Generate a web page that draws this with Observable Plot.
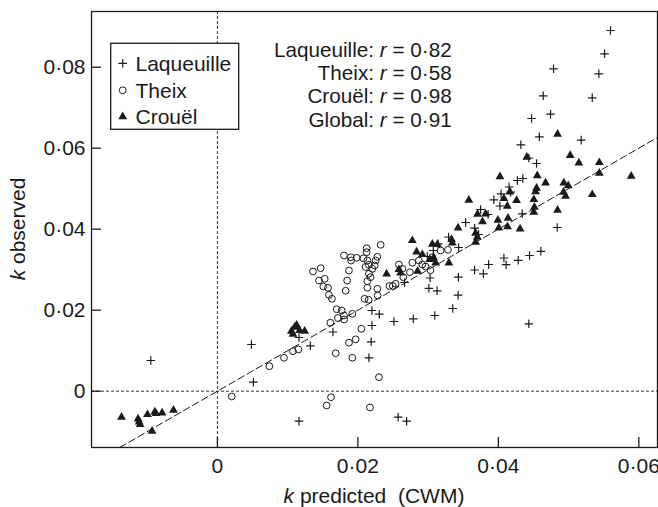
<!DOCTYPE html>
<html><head><meta charset="utf-8">
<script src="https://cdn.jsdelivr.net/npm/d3@7"></script>
<script src="https://cdn.jsdelivr.net/npm/@observablehq/plot@0.6"></script>
<style>body{margin:0;background:#fff} svg{font-family:"Liberation Sans",Arial,Helvetica,sans-serif}</style>
</head><body><div id="chart"></div>
<script>
// k predicted (CWM), k observed
const laqueuille = [[-0.00949,0.00758],[0.00484,0.01153],[0.00512,0.00222],[0.01161,-0.00741],[0.01323,0.01121],[0.01161,0.01326],[0.01645,0.01462],
[0.022,0.01993],[0.02305,0.01901],[0.022,0.01622],[0.02513,0.01721],[0.02789,0.01788],[0.03095,0.01869],[0.03351,0.02042],[0.02189,0.0122],[0.02157,0.00825],[0.02573,-0.00642],[0.02694,-0.00741],[0.04434,0.01664],
[0.02665,0.02684],[0.03028,0.02795],[0.03011,0.02541],[0.03128,0.02479],[0.03431,0.02815],[0.03427,0.0237],
[0.03662,0.02993],[0.03787,0.02899],[0.03861,0.03128],[0.04079,0.03289],[0.0411,0.03123],[0.04283,0.03232],[0.04444,0.03351],[0.04605,0.03454],
[0.02988,0.03326],[0.03074,0.03474],[0.03142,0.0364],[0.03292,0.03807],[0.03434,0.03548],[0.03534,0.04165],[0.03662,0.04025],[0.03719,0.03869],[0.03747,0.04486],[0.03854,0.04363],
[0.03936,0.04726],[0.04022,0.04573],[0.04039,0.04874],[0.04153,0.05042],[0.04174,0.04914],[0.04271,0.05202],[0.04348,0.05252],[0.0434,0.0438],[0.04838,0.04042],
[0.04434,0.05758],[0.04544,0.05622],[0.0432,0.06084],[0.04584,0.06281],[0.04473,0.06733],[0.04743,0.0684],[0.0518,0.06198],[0.04639,0.07294],[0.05337,0.07244],[0.04786,0.0796],[0.05431,0.07837],[0.05512,0.08331],[0.05597,0.08906]];

const theix = [[0.00204,-0.00131],[0.0074,0.00617],[0.00948,0.00825],[0.01076,0.00988],[0.01153,0.0103],[0.01555,-0.00353],[0.01617,-0.00148],[0.02172,-0.00402],[0.023,0.00346],
[0.01684,0.00938],[0.01921,0.00825],[0.01873,0.01198],[0.01968,0.01281],[0.02049,0.01541],[0.01608,0.01691],[0.01698,0.02025],[0.01769,0.01993],[0.01802,0.01869],[0.01716,0.01807],[0.01804,0.0177],[0.01921,0.01911],
[0.0163,0.02281],[0.01588,0.0238],[0.01574,0.02553],[0.01508,0.02585],[0.01527,0.02775],[0.01446,0.02733],[0.0136,0.02956],[0.0147,0.03037],[0.01826,0.02479],[0.01847,0.02733],[0.01873,0.0298],
[0.01802,0.03351],[0.01897,0.03309],[0.01982,0.03294],[0.02079,0.03281],[0.01904,0.03227],[0.02125,0.03531],[0.02125,0.03432],[0.02324,0.03615],[0.02277,0.03319],[0.02135,0.03227],[0.02253,0.03227],[0.02157,0.03121],[0.02239,0.03104],[0.02206,0.03022],[0.0211,0.03067],[0.02157,0.02899],[0.02179,0.02815],[0.02135,0.02716],
[0.02135,0.02553],[0.02277,0.02528],[0.02096,0.02281],[0.02153,0.02257],[0.02281,0.02363],[0.02449,0.02598],[0.02497,0.02598],[0.02584,0.03128],
[0.02633,0.03022],[0.02741,0.02938],[0.02647,0.02815],[0.02775,0.03173],[0.02917,0.03128],[0.02964,0.03079],[0.03033,0.02988],[0.02869,0.03227],[0.02537,0.02652],
[0.0306,0.03309],[0.03178,0.03474],[0.03282,0.03491]];

const crouel = [[-0.01366,-0.00625],[-0.0113,-0.00667],[-0.01116,-0.00741],[-0.01101,-0.00805],[-0.00996,-0.00558],[-0.00892,-0.00494],[-0.00874,-0.00533],[-0.00788,-0.00519],[-0.00626,-0.00452],[-0.00931,-0.0097],
[0.01053,0.01499],[0.011,0.01598],[0.01128,0.01647],[0.01076,0.01425],[0.01171,0.01516],[0.01242,0.01499],
[0.02409,0.02914],[0.02584,0.03022],[0.02608,0.02938],[0.02775,0.03738],[0.02836,0.03457],[0.02917,0.03393],[0.0306,0.03647],[0.03131,0.0364],[0.03078,0.03314],[0.03025,0.03269],[0.03107,0.03185],[0.0285,0.0298],[0.03296,0.03185],[0.03334,0.03763],[0.03344,0.03679],[0.03427,0.04049],[0.0358,0.04733],[0.03676,0.03919],[0.037,0.0382],[0.03676,0.03696],[0.03704,0.04388],[0.03818,0.04395],[0.03775,0.04202],[0.03993,0.0424],[0.04007,0.04049],[0.04131,0.04079],[0.04138,0.04289],[0.04127,0.04585],[0.04079,0.04775],[0.04164,0.04938],[0.04259,0.04728],[0.04022,0.05314],[0.04309,0.04025],[0.04406,0.05795],[0.04505,0.04751],[0.04513,0.0456],[0.04505,0.04437],[0.0453,0.04943],[0.04544,0.0503],[0.04554,0.05338],[0.04672,0.0516],[0.04843,0.06363],[0.04843,0.04486],[0.05023,0.0584],[0.05146,0.05654],[0.05438,0.05664],[0.05438,0.054],[0.05892,0.05326],[0.05337,0.04874],[0.04932,0.0516],[0.04995,0.05091],[0.04928,0.04931],[0.04957,0.04832]];

const seriesNames = ["Laqueuille", "Theix", "Crouël"];
const rLabels = ["Laqueuille", "Theix", "Crouël", "Global"];
const rValues = ["0·82", "0·58", "0·98", "0·91"];
const xTicks = [0, 0.02, 0.04, 0.06];
const xTickLabels = ["0", "0·02", "0·04", "0·06"];
const yTicks = [0, 0.02, 0.04, 0.06, 0.08];
const yTickLabels = ["0", "0·02", "0·04", "0·06", "0·08"];
const xDomain = [-0.01793, 0.06266];
const yDomain = [-0.0139, 0.09375];

const plusSym = {draw(ctx, size) {const r = Math.sqrt(size / Math.PI); ctx.moveTo(-r, 0); ctx.lineTo(r, 0); ctx.moveTo(0, -r); ctx.lineTo(0, r);}};
const triSym = {draw(ctx, size) {const r = Math.sqrt(size / Math.PI); ctx.moveTo(0, -r); ctx.lineTo(r, 0.75 * r); ctx.lineTo(-r, 0.75 * r); ctx.closePath();}};

const ink = "#1a1a1a";
const W = 658, H = 507, mL = 91, mT = 11, mR = 1, mB = 60;

const plot = Plot.plot({
  width: W, height: H,
  marginLeft: mL, marginTop: mT, marginRight: mR, marginBottom: mB,
  style: {fontFamily: '"Liberation Sans", Arial, sans-serif', fontSize: "21px", background: "#fff", color: ink},
  x: {domain: xDomain},
  y: {domain: yDomain},
  marks: [
    Plot.ruleX([0], {stroke: "#333", strokeWidth: 1, strokeDasharray: "3,2"}),
    Plot.ruleY([0], {stroke: "#333", strokeWidth: 1, strokeDasharray: "3,2"}),
    Plot.line([yDomain[0], xDomain[1]], {x: d => d, y: d => d, stroke: ink, strokeWidth: 1, strokeDasharray: "7,3.5", clip: true}),
    Plot.dot(laqueuille, {x: d => d[0], y: d => d[1], symbol: plusSym, r: 4.3, stroke: ink, strokeWidth: 1.2, fill: "none"}),
    Plot.dot(theix, {x: d => d[0], y: d => d[1], symbol: "circle", r: 3.4, stroke: ink, strokeWidth: 1, fill: "none"}),
    Plot.dot(crouel, {x: d => d[0], y: d => d[1], symbol: triSym, r: 4.4, fill: ink, stroke: "none"}),
    Plot.axisX({ticks: xTicks, tickSize: -10, tickFormat: () => "", label: null, stroke: ink, strokeWidth: 1.3}),
    Plot.axisX({ticks: xTicks, tickSize: 0, tickPadding: 11, tickFormat: d => xTickLabels[xTicks.indexOf(d)], label: null, fontSize: 21, fill: ink}),
    Plot.axisY({ticks: yTicks, tickSize: -10, tickFormat: () => "", label: null, stroke: ink, strokeWidth: 1.3}),
    Plot.axisY({ticks: yTicks, tickSize: 0, tickPadding: 6, tickFormat: d => yTickLabels[yTicks.indexOf(d)], label: null, fontSize: 21, fill: ink}),
    Plot.frame({stroke: ink, strokeWidth: 1.3})
  ]
});
document.getElementById("chart").appendChild(plot);

const svg = d3.select(plot);
// axis titles
const yt = svg.append("text").attr("transform", `translate(25,${(mT + H - mB) / 2}) rotate(-90)`)
  .attr("text-anchor", "middle").attr("font-size", 21).attr("fill", ink);
yt.append("tspan").attr("font-style", "italic").text("k");
yt.append("tspan").text(" observed");
const xt = svg.append("text").attr("x", (mL + W - mR) / 2).attr("y", 503)
  .attr("text-anchor", "middle").attr("font-size", 21).attr("fill", ink);
xt.append("tspan").attr("font-style", "italic").text("k");
xt.append("tspan").text(" predicted\u00a0\u00a0(CWM)");

// legend
const lg = svg.append("g").attr("text-anchor", "start");
lg.append("rect").attr("x", 110.7).attr("y", 43.3).attr("width", 128).attr("height", 86)
  .attr("fill", "#fff").attr("stroke", ink).attr("stroke-width", 1.3);
const symPath = (sym, r) => { const p = d3.path(); sym.draw(p, Math.PI * r * r); return p.toString(); };
const rowY = [63.3, 90.3, 116];
seriesNames.forEach((name, i) => {
  const g = lg.append("g").attr("transform", `translate(122.7,${rowY[i]})`);
  if (i === 0) g.append("path").attr("d", symPath(plusSym, 4.3)).attr("stroke", ink).attr("stroke-width", 1.2).attr("fill", "none");
  if (i === 1) g.append("circle").attr("r", 3.4).attr("stroke", ink).attr("stroke-width", 1).attr("fill", "none");
  if (i === 2) g.append("path").attr("d", symPath(triSym, 4.4)).attr("fill", ink);
  lg.append("text").attr("x", 135.5).attr("y", rowY[i] + 7.5).attr("text-anchor", "start").attr("font-size", 21).attr("fill", ink).text(name);
});

// correlation annotations
const rY = [56.7, 80, 103.3, 126.7];
rLabels.forEach((name, i) => {
  const t = svg.append("text").attr("x", 451.7).attr("y", rY[i]).attr("text-anchor", "end").attr("font-size", 20.7).attr("fill", ink);
  t.append("tspan").text(name + ": ");
  t.append("tspan").attr("font-style", "italic").text("r");
  t.append("tspan").text(" = " + rValues[i]);
});
</script>
</body></html>
